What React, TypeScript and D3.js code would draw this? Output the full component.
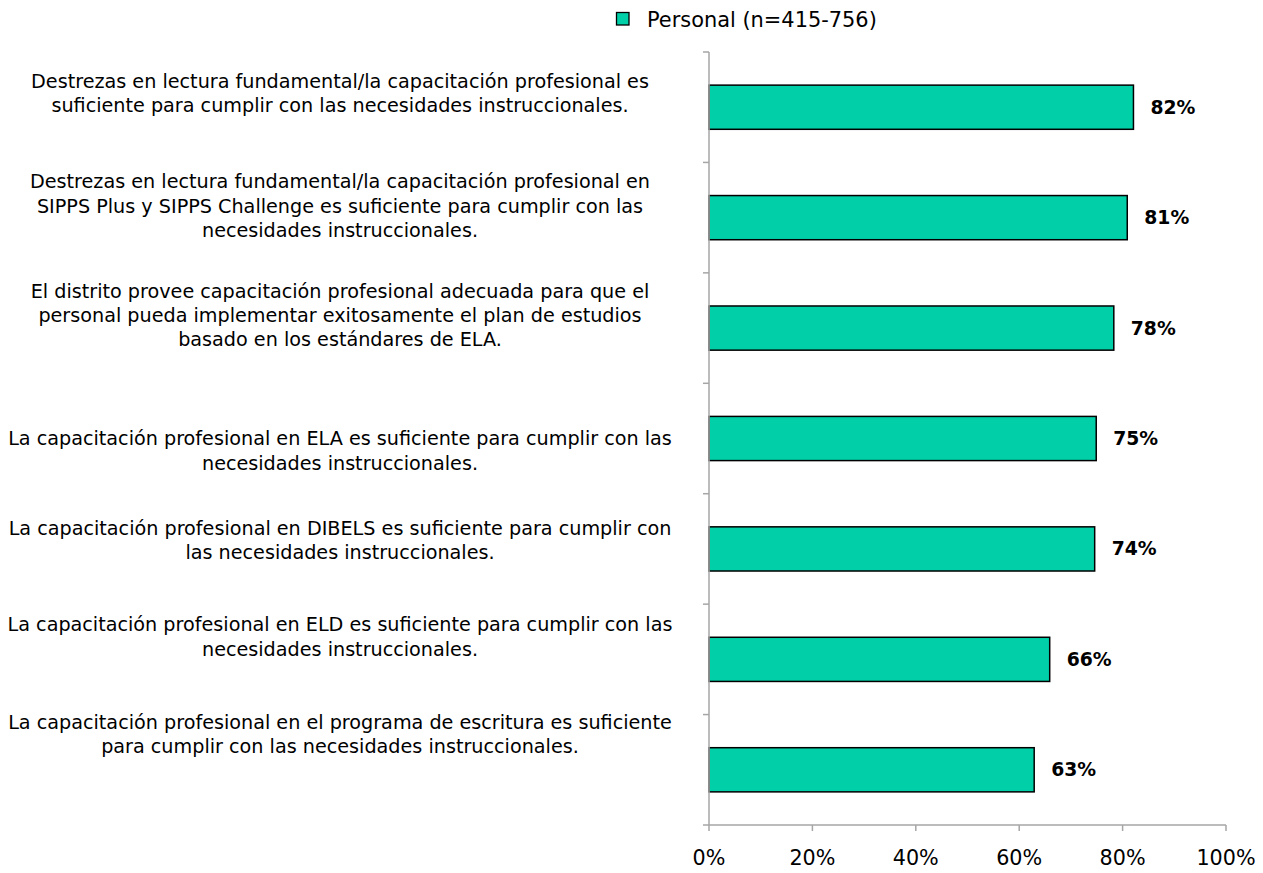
import React from "react";
import * as d3 from "d3";

// ---- Data ----
const categoryLines: string[][] = [
  [
    "Destrezas en lectura fundamental/la capacitación profesional es",
    "suficiente para cumplir con las necesidades instruccionales.",
  ],
  [
    "Destrezas en lectura fundamental/la capacitación profesional en",
    "SIPPS Plus y SIPPS Challenge es suficiente para cumplir con las",
    "necesidades instruccionales.",
  ],
  [
    "El distrito provee capacitación profesional adecuada para que el",
    "personal pueda implementar exitosamente el plan de estudios",
    "basado en los estándares de ELA.",
  ],
  [
    "La capacitación profesional en ELA es suficiente para cumplir con las",
    "necesidades instruccionales.",
  ],
  [
    "La capacitación profesional en DIBELS es suficiente para cumplir con",
    "las necesidades instruccionales.",
  ],
  [
    "La capacitación profesional en ELD es suficiente para cumplir con las",
    "necesidades instruccionales.",
  ],
  [
    "La capacitación profesional en el programa de escritura es suficiente",
    "para cumplir con las necesidades instruccionales.",
  ],
];
const values: number[] = [82.1, 80.9, 78.3, 74.9, 74.6, 65.9, 62.9];
const valueLabels: string[] = ["82%", "81%", "78%", "75%", "74%", "66%", "63%"];
const xTickValues: number[] = [0, 20, 40, 60, 80, 100];
const seriesName = "Personal (n=415-756)";

// ---- Layout / style ----
const W = 1263;
const H = 873;
const plotLeft = 709;
const plotRight = 1226;
const plotTop = 52;
const plotBottom = 825;
const labelCenterX = 340;
const lineHeight = 24.3;
// vertical nudges of the category label blocks relative to their band centre
const labelNudge = [-14, -12, -13, 12, -9, -23, -36];
const FONT = "'DejaVu Sans', sans-serif";
const barFill = "#00CFA8";
const axisColor = "#A6A6A6";

export default function App() {
  const x = d3.scaleLinear().domain([0, 100]).range([plotLeft, plotRight]);
  const idx = d3.range(values.length);
  const y = d3
    .scaleBand<number>()
    .domain(idx)
    .range([plotTop, plotBottom])
    .paddingInner(0.6)
    .paddingOuter(0.3);
  const boundaries = d3
    .range(values.length + 1)
    .map((i) => plotTop + i * ((plotBottom - plotTop) / values.length));

  return (
    <svg
      width={W}
      height={H}
      style={{ position: "absolute", left: 0, top: 0, background: "#fff" }}
      fontFamily={FONT}
    >
      {/* Legend */}
      <g>
        <rect x={616.5} y={12.5} width={12.5} height={12.5} fill={barFill} stroke="#000" strokeWidth={1.3} />
        <text x={647} y={20} dominantBaseline="central" fontSize={20.9} fill="#000">
          {seriesName}
        </text>
      </g>

      {/* Bars */}
      {idx.map((i) => (
        <rect
          key={"b" + i}
          x={x(0)}
          y={y(i)!}
          width={x(values[i]) - x(0)}
          height={y.bandwidth()}
          fill={barFill}
          stroke="#000"
          strokeWidth={1.5}
        />
      ))}

      {/* Value labels */}
      {idx.map((i) => (
        <text
          key={"v" + i}
          x={x(values[i]) + 17}
          y={y(i)! + y.bandwidth() / 2}
          dominantBaseline="central"
          fontSize={18.8}
          fontWeight="bold"
          fill="#000"
        >
          {valueLabels[i]}
        </text>
      ))}

      {/* Y axis */}
      <line x1={plotLeft} x2={plotLeft} y1={plotTop} y2={plotBottom} stroke={axisColor} strokeWidth={1.5} />
      {boundaries.map((b, i) => (
        <line key={"yt" + i} x1={plotLeft - 6} x2={plotLeft} y1={b} y2={b} stroke={axisColor} strokeWidth={1.5} />
      ))}

      {/* X axis */}
      <line x1={plotLeft} x2={plotRight} y1={plotBottom} y2={plotBottom} stroke={axisColor} strokeWidth={1.5} />
      {xTickValues.map((t) => (
        <g key={"xt" + t}>
          <line x1={x(t)} x2={x(t)} y1={plotBottom} y2={plotBottom + 6} stroke={axisColor} strokeWidth={1.5} />
          <text x={x(t)} y={858} textAnchor="middle" dominantBaseline="central" fontSize={20.7} fill="#000">
            {t + "%"}
          </text>
        </g>
      ))}

      {/* Category labels */}
      {idx.map((i) => {
        const lines = categoryLines[i];
        const cy = y(i)! + y.bandwidth() / 2 + labelNudge[i];
        const firstY = cy - ((lines.length - 1) * lineHeight) / 2;
        return (
          <text key={"c" + i} textAnchor="middle" fontSize={19.2} fill="#000" dominantBaseline="central">
            {lines.map((ln, j) => (
              <tspan key={j} x={labelCenterX} y={firstY + j * lineHeight}>
                {ln}
              </tspan>
            ))}
          </text>
        );
      })}
    </svg>
  );
}
